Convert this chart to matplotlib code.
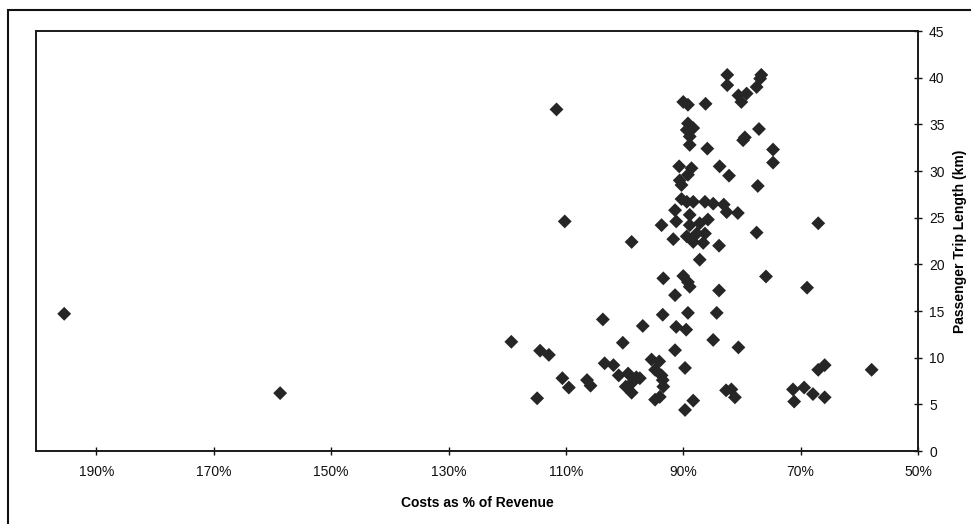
import numpy as np
import matplotlib
matplotlib.use('Agg')
import matplotlib.pyplot as plt
from matplotlib.patches import Rectangle

plt.rcParams['font.family'] = ['Liberation Sans', 'DejaVu Sans']

# costs as % of revenue vs passenger trip length (km)
cost_pct = [
    195.5, 158.7, 119.3, 114.4, 112.9, 114.9, 111.6, 110.2, 110.6, 109.5,
    106.4, 105.8, 103.7, 100.3, 96.9, 103.4, 101.9, 101.0, 99.4, 98.0,
    99.8, 98.8, 98.6, 98.8, 95.4, 94.1, 94.8, 93.7, 93.5, 93.4,
    94.0, 94.8, 97.4, 93.7, 91.7, 87.2, 93.4, 90.0, 89.2, 88.9,
    91.4, 83.9, 75.9, 68.9, 93.5, 89.2, 84.3, 91.2, 89.5, 84.9,
    80.6, 91.4, 89.7, 88.3, 89.7, 82.7, 81.8, 81.2, 71.3, 71.1,
    69.4, 67.9, 67.0, 65.9, 65.9, 57.9,
    82.5, 82.5, 76.7, 76.9, 77.5, 80.6, 79.2, 80.1, 90.0, 89.2,
    86.2, 89.2, 88.3, 89.4, 88.9, 88.9, 85.9, 77.1, 79.5, 79.8,
    74.7, 74.7, 90.7, 88.6, 89.2, 90.6, 90.3, 83.8, 82.2, 77.3,
    90.3, 89.4, 88.3, 86.3, 84.9, 83.1, 82.6, 80.7, 91.4, 91.2,
    88.9, 88.9, 87.2, 85.8, 87.7, 86.3, 89.4, 88.3, 86.6, 83.9,
    77.5, 67.0,
]
trip_km = [
    14.7, 6.2, 11.7, 10.75, 10.3, 5.65, 36.6, 24.6, 7.8, 6.8,
    7.6, 7.0, 14.1, 11.6, 13.4, 9.4, 9.2, 8.1, 8.3, 7.9,
    6.9, 6.25, 7.4, 22.4, 9.8, 9.6, 8.7, 8.1, 7.6, 6.9,
    5.8, 5.5, 7.8, 24.2, 22.7, 20.5, 18.5, 18.75, 18.1, 17.6,
    16.7, 17.2, 18.7, 17.5, 14.6, 14.8, 14.8, 13.3, 13.0, 11.9,
    11.1, 10.8, 8.9, 5.4, 4.4, 6.5, 6.6, 5.75, 6.6, 5.3,
    6.8, 6.1, 8.7, 9.2, 5.75, 8.7,
    40.3, 39.2, 40.3, 39.9, 39.0, 38.1, 38.3, 37.4, 37.4, 37.1,
    37.2, 35.1, 34.6, 34.4, 33.7, 32.8, 32.4, 34.5, 33.6, 33.3,
    32.3, 30.9, 30.5, 30.3, 29.6, 29.0, 28.5, 30.5, 29.5, 28.4,
    27.0, 26.7, 26.7, 26.7, 26.5, 26.4, 25.6, 25.5, 25.8, 24.6,
    25.3, 24.2, 24.4, 24.8, 23.3, 23.3, 23.0, 22.4, 22.3, 22.0,
    23.4, 24.4,
]
x_ticks = [190, 170, 150, 130, 110, 90, 70, 50]
y_ticks = [0, 5, 10, 15, 20, 25, 30, 35, 40, 45]

fig = plt.figure(figsize=(9.71, 5.24), dpi=100)
ax = fig.add_axes([0.0371, 0.1393, 0.9083, 0.8015])

ax.scatter(cost_pct, trip_km, marker='D', s=50, color='#262626', edgecolors='none', zorder=3)

ax.set_xlim(200.3, 50)
ax.set_ylim(0, 45)
ax.set_xticks(x_ticks)
ax.set_xticklabels([f'{v}%' for v in x_ticks])
ax.set_yticks(y_ticks)
ax.yaxis.tick_right()
ax.yaxis.set_label_position('right')
ax.tick_params(axis='both', direction='inout', length=6, width=1, labelsize=10, colors='#111111')
ax.tick_params(axis='x', pad=7)
ax.tick_params(axis='y', pad=5)

for sp in ax.spines.values():
    sp.set_linewidth(1.4)
    sp.set_color('#1a1a1a')

ax.set_xlabel('Costs as % of Revenue', fontsize=10, fontweight='bold', labelpad=12)
ax.set_ylabel('Passenger Trip Length (km)', fontsize=10, fontweight='bold', labelpad=6)

# outer chart frame
fig.patches.append(Rectangle((8 / 971, -0.05), 1.1, 1 - 10 / 524 + 0.05,
                             transform=fig.transFigure, fill=False,
                             edgecolor='#111111', linewidth=1.5, zorder=0))

fig.savefig('out.png', dpi=100)
